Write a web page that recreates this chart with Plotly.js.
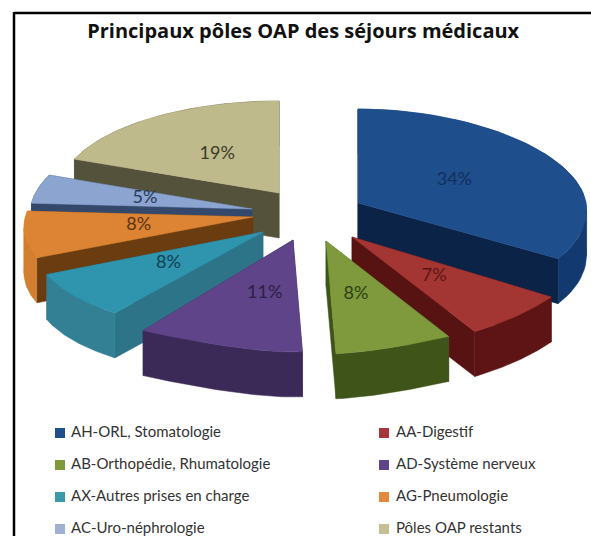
<!DOCTYPE html>
<html><head><meta charset="utf-8">
<script src="https://cdn.plot.ly/plotly-3.0.1.min.js"></script>
<style>html,body{margin:0;padding:0;background:#fff}#c{width:591px;height:536px}</style>
</head><body><div id="c"></div>
<script>
// --- data
const categories = ['AH-ORL, Stomatologie','AA-Digestif','AB-Orthopédie, Rhumatologie','AD-Système nerveux','AX-Autres prises en charge','AG-Pneumologie','AC-Uro-néphrologie','Pôles OAP restants'];
const shares = [34,7,8,11,8,8,5,19];

// --- style
const topColors    = ['#1f4e8c','#a33533','#7f9a3c','#5f4489','#2f94ae','#dd8434','#8ba4d0','#bfba8c'];
const rimColors    = ['#123a70','#5e1414','#3f5418','#3b2a57','#337f94','#d27f30','#34486c','#55523c'];
const radialColors = ['#0b2347','#571312','#3f5418','#3b2a57','#2e7488','#6b3c10','#34486c','#55523c'];
const labelColors  = ['#12305c','#5e1414','#2c3f12','#2c1f44','#123f50','#5a3210','#26395c','#3b3a28'];
const legendColors = ['#1f4e8c','#a8343c','#7f9a3c','#5f4489','#3a9aa8','#e08a40','#9fb0d0','#c4bf94'];

// --- exploded 3-D projection (drawn on a 591x536 chart plane)
const apexX = [358,352,326,293,263,253,252,279];
const apexY = [203,237,241,240,232,217,209,193];
const radXStart = [203,236,229,150,252,239,221,220];
const radXEnd   = [237,229,159,255,239,226,218,220];
const radBack  = [94,94,94,94,94,94,92,92];
const radFront = [104,112,113,112,100,96,92,92];
const depth = 45;
const drawOrder = [7,6,5,4,0,1,2,3];
const legendMarkerX = [60,384], legendTextX = [71,396], legendY = [433,465,497,529];

const rad = d => d*Math.PI/180;
const total = shares.reduce((a,b)=>a+b,0);
const starts = []; shares.reduce((acc,v,i)=>{starts[i]=acc; return acc+v/total*360;},0);
function proj(i,deg,f){
  const c = Math.cos(rad(deg)), s = Math.sin(rad(deg));
  const ry = c>=0 ? radBack[i] : radFront[i];
  const t = (deg-starts[i])/(shares[i]/total*360);
  const rx = radXStart[i]+(radXEnd[i]-radXStart[i])*t;
  return [apexX[i]+f*rx*s, apexY[i]-f*ry*c];
}
const traces = [];
function poly(xs,ys,color){
  traces.push({type:'scatter',mode:'lines',x:xs,y:ys,fill:'toself',fillcolor:color,
    line:{color:color,width:0.5},hoverinfo:'skip',showlegend:false});
}
// one side wall along a curve whose x only moves one way; wound left to right
function wall(run,xs,ys){
  const pts = run[0][0]<=run[run.length-1][0] ? run : run.slice().reverse();
  pts.forEach(p=>{xs.push(p[0]);ys.push(p[1]);});
  pts.slice().reverse().forEach(p=>{xs.push(p[0]);ys.push(p[1]+depth);});
  xs.push(pts[0][0],null); ys.push(pts[0][1],null);
}
drawOrder.forEach(i=>{
  const a0 = starts[i], a1 = a0 + shares[i]/total*360;
  const arc = [];
  for(let k=0;k<=48;k++) arc.push(proj(i,a0+(a1-a0)*k/48,1));
  const A = [apexX[i],apexY[i]];
  const qx=[], qy=[];
  wall([A,arc[0]],qx,qy); wall([A,arc[48]],qx,qy);
  poly(qx,qy,radialColors[i]);
  const rx=[], ry=[];
  let run=[arc[0]], dir=0;
  for(let k=1;k<=48;k++){
    const d=Math.sign(arc[k][0]-arc[k-1][0]);
    if(dir!==0 && d!==0 && d!==dir){ wall(run,rx,ry); run=[arc[k-1]]; }
    if(d!==0) dir=d;
    run.push(arc[k]);
  }
  wall(run,rx,ry);
  poly(rx,ry,rimColors[i]);
  poly([A[0]].concat(arc.map(p=>p[0]),[A[0]]), [A[1]].concat(arc.map(p=>p[1]),[A[1]]), topColors[i]);
});
shares.forEach((v,i)=>{
  const a0 = starts[i], a1 = a0+v/total*360, p = proj(i,(a0+a1)/2,0.5);
  traces.push({type:'scatter',mode:'text',x:[p[0]],y:[p[1]],text:[v+'%'],textposition:'middle center',
    textfont:{family:'Lato, "Open Sans", sans-serif',size:18,color:labelColors[i]},hoverinfo:'skip',showlegend:false});
});
categories.forEach((name,i)=>{
  const col = i%2, row = Math.floor(i/2);
  traces.push({type:'scatter',mode:'markers',x:[legendMarkerX[col]],y:[legendY[row]],
    marker:{symbol:'square',size:10,color:legendColors[i]},hoverinfo:'skip',showlegend:false,cliponaxis:false});
  traces.push({type:'scatter',mode:'text',x:[legendTextX[col]],y:[legendY[row]],text:[name],textposition:'middle right',
    textfont:{family:'Lato, sans-serif',size:15,color:'#333'},hoverinfo:'skip',showlegend:false,cliponaxis:false});
});
const layout = {
  width:591,height:536,margin:{l:0,r:0,t:0,b:0},paper_bgcolor:'#fff',plot_bgcolor:'#fff',showlegend:false,
  title:{text:'<b>Principaux pôles OAP des séjours médicaux</b>',x:0.513,xanchor:'center',y:0.943,yanchor:'middle',
    font:{family:'"Open Sans", sans-serif',size:20,color:'#111'}},
  xaxis:{range:[0,591],visible:false,fixedrange:true},
  yaxis:{range:[536,0],visible:false,fixedrange:true},
  shapes:[
    {type:'line',xref:'paper',yref:'paper',x0:0.0237,x1:1,y0:1-13/536,y1:1-13/536,line:{color:'#000',width:2.5}},
    {type:'line',xref:'paper',yref:'paper',x0:14/591,x1:14/591,y0:0,y1:1-12/536,line:{color:'#000',width:2.5}}
  ]
};
Plotly.newPlot('c',traces,layout,{displayModeBar:false,staticPlot:true});
</script></body></html>
